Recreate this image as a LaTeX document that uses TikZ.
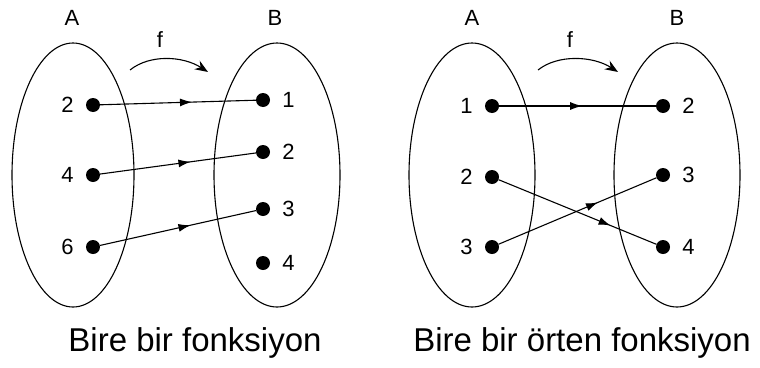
\documentclass[tikz,border=0pt]{standalone}
\usepackage{fontspec}
\setmainfont{Liberation Sans}
\usetikzlibrary{arrows.meta, shapes.geometric, decorations.markings}
\tikzset{
    setshape/.style={ellipse, draw=black, line width=1.1pt, minimum width=126pt, minimum height=264pt, inner sep=0pt},
    elem/.style={circle, fill=black, minimum size=14pt, inner sep=0pt},
    map/.style={line width=1.1pt, postaction={decorate},
        decoration={markings, mark=at position #1 with {\arrow{Latex[length=12pt,width=8pt]}}}},
    map/.default=0.58,
    farrow/.style={-{Stealth[length=13pt,width=10pt]}, line width=1.1pt},
    caption/.style={font=\fontsize{33}{38}\selectfont}
}
\begin{document}
\begin{tikzpicture}[x=1pt, y=-1pt,
  every node/.style={font=\fontsize{22}{26}\selectfont},
  ll/.style={label={[label distance=12pt, inner sep=0pt]left:#1}},
  rl/.style={label={[label distance=12pt, inner sep=0pt]right:#1}}
]
\useasboundingbox (0,0) rectangle (760,367);

% Bire bir fonksiyon
\node[setshape, minimum width=122pt] (A1) at (73,175) {};
\node[setshape] (B1) at (277,175) {};
\node (labA1) at (72,18) {A};
\node (labB1) at (275,18) {B};
\node (labf1) at (160,40) {f};
\coordinate (f1s) at (130,70);
\coordinate (f1e) at (208,72);
\draw[farrow] (f1s) .. controls (150,54) and (183,56) .. (f1e);

\node[elem, ll=2] (a12) at (93,105) {};
\node[elem, ll=4] (a14) at (93,175) {};
\node[elem, ll=6] (a16) at (93,247) {};
\node[elem, rl=1] (b11) at (263,100) {};
\node[elem, rl=2] (b12) at (263,152) {};
\node[elem, rl=3] (b13) at (263,209) {};
\node[elem, rl=4] (b14) at (263,263) {};

\draw[map=0.59] (a12) -- (b11);
\draw[map] (a14) -- (b12);
\draw[map] (a16) -- (b13);

\node[caption] (cap1) at (195,343) {Bire bir fonksiyon};

% Bire bir örten fonksiyon
\node[setshape] (A2) at (472,175) {};
\node[setshape] (B2) at (677,175) {};
\node (labA2) at (472,18) {A};
\node (labB2) at (677,18) {B};
\node (labf2) at (570,40) {f};
\coordinate (f2s) at (538,70);
\coordinate (f2e) at (618,72);
\draw[farrow] (f2s) .. controls (558,54) and (593,56) .. (f2e);

\node[elem, ll=1] (a21) at (492,106) {};
\node[elem, ll=2] (a22) at (492,177) {};
\node[elem, ll=3] (a23) at (492,247) {};
\node[elem, rl=2] (b22) at (663,106) {};
\node[elem, rl=3] (b23) at (663,175) {};
\node[elem, rl=4] (b24) at (663,247) {};

\draw[map=0.53] (a21) -- (b22);
\draw[map=0.71] (a22) -- (b24);
\draw[map=0.63] (a23) -- (b23);

\node[caption] (cap2) at (582,343) {Bire bir örten fonksiyon};
\end{tikzpicture}
\end{document}
